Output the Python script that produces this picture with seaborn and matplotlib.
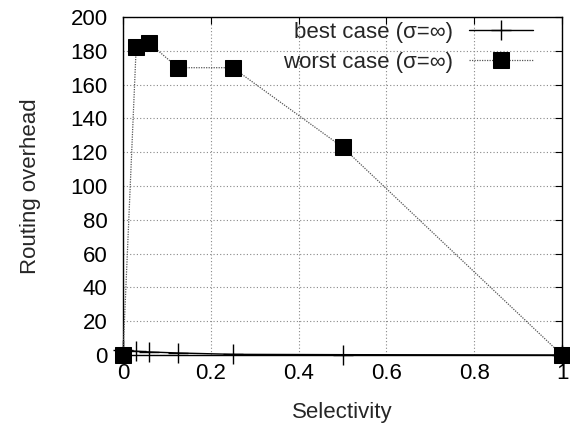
import matplotlib
matplotlib.use("Agg")
import matplotlib.pyplot as plt
import seaborn as sns
import pandas as pd

selectivity = [0, 0.03, 0.06, 0.125, 0.25, 0.5, 1.0]
best_case = [3, 2.2, 1.8, 1.2, 0.4, 0.2, 0]
worst_case = [0, 182, 184.5, 170, 170, 123, 0]
labels = ["best case (σ=∞)", "worst case (σ=∞)"]

sns.set_style("white")
plt.rcParams['font.family'] = ['Liberation Sans', 'DejaVu Sans']

FS = 16
fig = plt.figure(figsize=(5.7, 4.32), dpi=100)
ax = fig.add_axes([123/570, 1-355/432, (562-123)/570, (355-17)/432])

df_best = pd.DataFrame({"x": selectivity, "y": best_case})
df_worst = pd.DataFrame({"x": selectivity, "y": worst_case})

sns.lineplot(data=df_best, x="x", y="y", ax=ax, color="black", linewidth=1.0,
             marker="+", markersize=14, markeredgewidth=1.0, markeredgecolor="black",
             label=labels[0], zorder=3, clip_on=False)
sns.lineplot(data=df_worst, x="x", y="y", ax=ax, color="#555555", linestyle=(0, (1, 1)),
             linewidth=0.9, marker="s", markersize=12, markerfacecolor="black",
             markeredgecolor="black", label=labels[1], zorder=4, clip_on=False)

ax.set_xlim(0, 1)
ax.set_ylim(0, 200)
ax.set_xticks([0, 0.2, 0.4, 0.6, 0.8, 1])
ax.set_xticklabels(["0", "0.2", "0.4", "0.6", "0.8", "1"])
ax.set_yticks(range(0, 201, 20))
ax.grid(True, color="#888888", linestyle=(0, (1, 2)), linewidth=0.8)
ax.tick_params(direction="in", length=5, width=0.8, top=True, right=True,
               labelsize=FS, colors="black")
ax.tick_params(axis="y", pad=11)
ax.tick_params(axis="x", pad=6)
for s in ax.spines.values():
    s.set_color("black")
    s.set_linewidth(1.0)
ax.set_xlabel("Selectivity", fontsize=FS, labelpad=13)
ax.set_ylabel("Routing overhead", fontsize=FS, labelpad=21)

leg = ax.legend(loc="upper right", frameon=False, markerfirst=False, fontsize=FS,
                handlelength=2.9, bbox_to_anchor=(0.934, 0.985), borderaxespad=0.0,
                labelspacing=0.4, handletextpad=0.7, borderpad=0.0)

fig.savefig("out.png", dpi=100)
